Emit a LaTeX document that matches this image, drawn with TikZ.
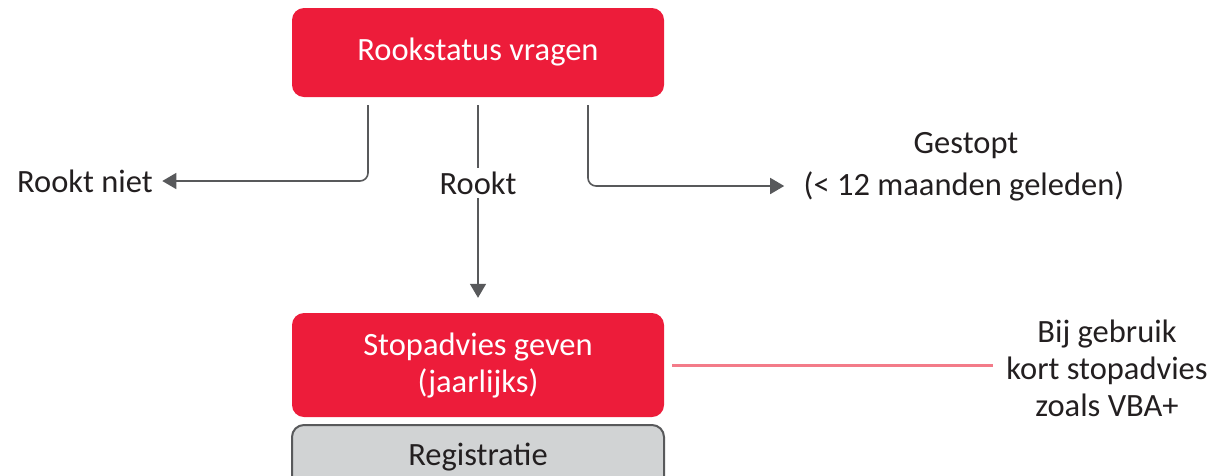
\documentclass[tikz,border=0pt]{standalone}
\usepackage{fontspec}
\setmainfont{Carlito}
\usetikzlibrary{arrows.meta}
\definecolor{rood}{HTML}{ED1C3A}
\definecolor{roze}{HTML}{F37B89}
\definecolor{lijn}{HTML}{58595B}
\definecolor{grijs}{HTML}{D1D3D4}
\definecolor{tekst}{HTML}{231F20}
\tikzset{
  stap/.style={rounded corners=12pt, fill=rood, text=white, minimum width=372pt, align=center},
  invoer/.style={rounded corners=12pt, fill=grijs, draw=lijn, line width=2pt, text=tekst, minimum width=372pt},
  uitkomst/.style={text=tekst, align=center},
  pijl/.style={draw=lijn, line width=1.6pt, -{Triangle[width=16pt,length=14pt]}},
}

\begin{document}
\begin{tikzpicture}[x=1pt,y=-1pt,font=\fontsize{32.5}{37}\selectfont]
    \path[use as bounding box] (0,0) rectangle (1218,475);
    \node[stap, minimum height=89pt] (vragen) at (478,52.5) {Rookstatus vragen};
    \node[stap, minimum height=104pt] (advies) at (478,365) {Stopadvies geven\\(jaarlijks)};
    \node[invoer, minimum height=64pt] (registratie) at (478,457) {Registratie};
    \node[uitkomst] (niet) at (85,181) {Rookt niet};
    \node[uitkomst] (rookt) at (478,183) {Rookt};
    \node[uitkomst] (gestopt) at (966,146) {Gestopt};
    \node[uitkomst] (termijn) at (964,186) {(< 12 maanden geleden)};
    \node[uitkomst] (gebruik) at (1107,368) {Bij gebruik\\kort stopadvies\\zoals VBA+};
    \draw[pijl, rounded corners=8pt] ([xshift=-110pt,yshift=-8pt]vragen.south) |- ([xshift=6pt]niet.east);
    \draw[pijl, rounded corners=8pt] ([xshift=110pt,yshift=-8pt]vragen.south) |- ([xshift=-16pt]termijn.west);
    \draw[draw=lijn, line width=1.6pt] ([yshift=-8pt]vragen.south) -- (rookt);
    \draw[pijl] (rookt) -- ([yshift=15pt]advies.north);
    \draw[roze, line width=3pt] ([xshift=8pt]advies.east) -- ([xshift=-10pt]advies.east -| gebruik.west);
  \end{tikzpicture}
\end{document}
